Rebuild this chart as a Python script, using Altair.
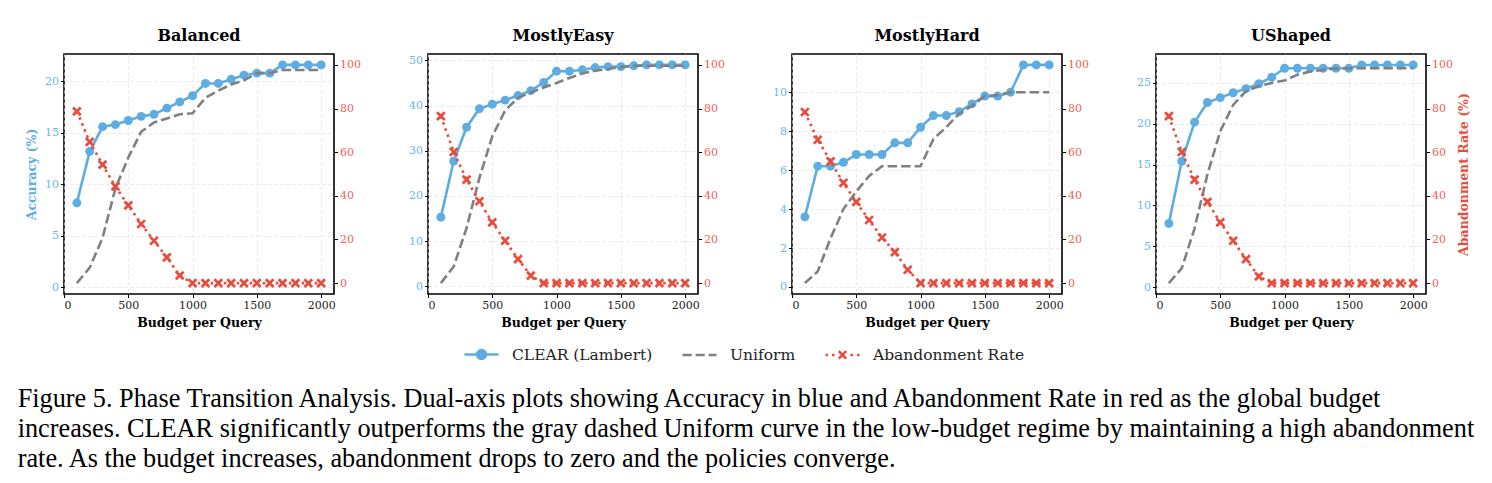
import altair as alt
import pandas as pd

budgets = list(range(100, 2001, 100))
panel_names = ["Balanced", "MostlyEasy", "MostlyHard", "UShaped"]
series_names = ["CLEAR (Lambert)", "Uniform", "Abandonment Rate"]
series_colors = ["#5DADE2", "#808080", "#E74C3C"]

clear_balanced = [8.2, 13.2, 15.6, 15.8, 16.2, 16.6, 16.8, 17.4, 18.0, 18.6,
                  19.8, 19.8, 20.2, 20.6, 20.8, 20.8, 21.6, 21.6, 21.6, 21.6]
uniform_balanced = [0.4, 1.9, 4.8, 9.6, 12.6, 15.1, 16.0, 16.4, 16.8, 16.9,
                    18.4, 19.1, 19.7, 20.1, 20.8, 20.8, 21.1, 21.1, 21.1, 21.1]
abandon_balanced = [78.7, 64.7, 54.3, 44.3, 35.6, 27.1, 19.4, 11.8, 3.5, 0,
                    0, 0, 0, 0, 0, 0, 0, 0, 0, 0]

clear_easy = [15.3, 27.7, 35.2, 39.3, 40.3, 41.2, 42.2, 43.3, 45.1, 47.6,
              47.6, 47.9, 48.4, 48.6, 48.6, 48.8, 49.0, 49.0, 49.0, 49.0]
uniform_easy = [0.7, 4.4, 12.9, 24.0, 33.2, 38.9, 41.7, 42.9, 44.0, 45.0,
                46.1, 47.1, 47.7, 48.1, 48.5, 48.8, 48.8, 48.8, 48.8, 48.8]
abandon_easy = [76.5, 60.1, 47.4, 37.5, 27.8, 19.4, 11.0, 3.4, 0, 0,
                0, 0, 0, 0, 0, 0, 0, 0, 0, 0]

clear_hard = [3.6, 6.2, 6.2, 6.4, 6.8, 6.8, 6.8, 7.4, 7.4, 8.2,
              8.8, 8.8, 9.0, 9.4, 9.8, 9.8, 10.0, 11.4, 11.4, 11.4]
uniform_hard = [0.2, 0.8, 2.5, 4.0, 4.9, 5.7, 6.2, 6.2, 6.2, 6.2,
                7.6, 8.2, 8.9, 9.3, 9.8, 9.85, 10.0, 10.0, 10.0, 10.0]
abandon_hard = [78.4, 65.7, 55.8, 45.9, 37.2, 28.9, 20.9, 14.2, 6.1, 0,
                0, 0, 0, 0, 0, 0, 0, 0, 0, 0]

clear_ushaped = [7.8, 15.4, 20.2, 22.6, 23.2, 23.8, 24.3, 24.9, 25.7, 26.8,
                 26.8, 26.8, 26.8, 26.8, 26.8, 27.2, 27.2, 27.2, 27.2, 27.2]
uniform_ushaped = [0.5, 2.3, 7.2, 13.8, 19.1, 22.3, 24.0, 24.6, 25.0, 25.3,
                   26.0, 26.4, 26.6, 26.75, 26.8, 26.8, 26.8, 26.8, 26.8, 26.8]
abandon_ushaped = [76.5, 60.1, 47.4, 37.2, 27.8, 19.4, 11.0, 3.1, 0, 0,
                   0, 0, 0, 0, 0, 0, 0, 0, 0, 0]

left_domains = [[-0.66, 22.66], [-1.7, 51.4], [-0.36, 11.96], [-0.84, 28.54]]
left_ticks = [[0, 5, 10, 15, 20], [0, 10, 20, 30, 40, 50],
              [0, 2, 4, 6, 8, 10], [0, 5, 10, 15, 20, 25]]
right_domain = [-5, 105]
right_ticks = [0, 20, 40, 60, 80, 100]
x_domain = [0, 2100]
x_ticks = [0, 500, 1000, 1500, 2000]

caption_lines = [
    "Figure 5. Phase Transition Analysis. Dual-axis plots showing Accuracy in blue and Abandonment Rate in red as the global budget",
    "increases. CLEAR significantly outperforms the gray dashed Uniform curve in the low-budget regime by maintaining a high abandonment",
    "rate. As the budget increases, abandonment drops to zero and the policies converge.",
]

SERIF = "DejaVu Serif"
BLUE_LBL = "#6BB5E8"
RED_LBL = "#F0625A"

# legend glyphs (line + marker), as unit-square SVG paths
legend_glyphs = [
    "M-1,0H1M-0.26,0A0.26,0.26,0,1,0,0.26,0A0.26,0.26,0,1,0,-0.26,0",
    "M-1,0H-0.46M-0.23,0H0.31M0.54,0H1",
    "M-1,0H-0.85M-0.62,0H-0.47M0.47,0H0.62M0.85,0H1"
    "M-0.22,-0.22L0.22,0.22M-0.22,0.22L0.22,-0.22",
]
legend_fills = ["#5DADE2", "transparent", "transparent"]


def make_panel(i, name, clear, uniform, abandon):
    df = pd.DataFrame({
        "budget": budgets * 3,
        "value": clear + uniform + abandon,
        "series": [series_names[0]] * 20 + [series_names[1]] * 20 + [series_names[2]] * 20,
    })
    x = alt.X("budget:Q", scale=alt.Scale(domain=x_domain, nice=False, zero=False),
              axis=alt.Axis(values=x_ticks, title="Budget per Query", grid=True, format="d"))
    y_left = alt.Y("value:Q", scale=alt.Scale(domain=left_domains[i], nice=False, zero=False),
                   axis=alt.Axis(values=left_ticks[i], orient="left", grid=True,
                                 labelColor=BLUE_LBL, titleColor="#5DADE2",
                                 title="Accuracy (%)" if i == 0 else None))
    y_right = alt.Y("value:Q", scale=alt.Scale(domain=right_domain, nice=False, zero=False),
                    axis=alt.Axis(values=right_ticks, orient="right", grid=False,
                                  labelColor=RED_LBL, titleColor="#E74C3C",
                                  titleAngle=270, titleBaseline="top", titlePadding=5,
                                  title="Abandonment Rate (%)" if i == 3 else None))

    base = alt.Chart(df)
    s0 = base.transform_filter(alt.datum.series == series_names[0])
    s1 = base.transform_filter(alt.datum.series == series_names[1])
    s2 = base.transform_filter(alt.datum.series == series_names[2])
    clear_line = s0.mark_line(strokeWidth=2.6, color=series_colors[0]).encode(x=x, y=y_left)
    clear_pts = s0.mark_point(filled=True, size=80, opacity=1,
                              color=series_colors[0]).encode(x=x, y=y_left)
    uniform_line = s1.mark_line(strokeWidth=2.6, strokeDash=[9.5, 4],
                                color=series_colors[1]).encode(x=x, y=y_left)
    ab_line = s2.mark_line(strokeWidth=2.6, strokeDash=[2.5, 4],
                           color=series_colors[2]).encode(x=x, y=y_right)
    ab_pts = s2.mark_point(shape="M-1,-1L1,1M-1,1L1,-1", size=60, strokeWidth=2.7,
                           opacity=1, color=series_colors[2]).encode(x=x, y=y_right)

    left_layers = [clear_line, clear_pts, uniform_line]
    if i == 0:
        leg = alt.Legend(title=None)
        legend_layer = base.transform_filter("false").mark_point(
            strokeWidth=2.5, size=1156, opacity=1).encode(
            x=x, y=y_left,
            shape=alt.Shape("series:N", scale=alt.Scale(domain=series_names, range=legend_glyphs), legend=leg),
            stroke=alt.Stroke("series:N", scale=alt.Scale(domain=series_names, range=series_colors), legend=leg),
            fill=alt.Fill("series:N", scale=alt.Scale(domain=series_names, range=legend_fills), legend=leg),
        )
        left_layers.append(legend_layer)

    left = alt.layer(*left_layers)
    right = alt.layer(ab_line, ab_pts)
    return alt.layer(left, right).resolve_scale(y="independent").properties(
        width=270, height=240,
        title=alt.Title(name, font=SERIF, fontSize=16, fontWeight="bold", offset=10))


panels = [
    make_panel(0, panel_names[0], clear_balanced, uniform_balanced, abandon_balanced),
    make_panel(1, panel_names[1], clear_easy, uniform_easy, abandon_easy),
    make_panel(2, panel_names[2], clear_hard, uniform_hard, abandon_hard),
    make_panel(3, panel_names[3], clear_ushaped, uniform_ushaped, abandon_ushaped),
]

chart = alt.hconcat(*panels, spacing=45).properties(
    padding={"left": 17, "top": 27, "right": 5, "bottom": 5},
    title=alt.Title(caption_lines, orient="bottom", anchor="start", frame="bounds",
                    font="Liberation Serif", fontSize=26.25, fontWeight="normal",
                    lineHeight=30, offset=22, dx=-7, color="black"),
).configure_view(
    stroke="black", strokeWidth=1.6
).configure_axis(
    labelFont=SERIF, labelFontSize=11, titleFont=SERIF, titleFontSize=12.5,
    titleFontWeight="bold", domain=False, tickColor="black", tickSize=3.5,
    tickWidth=1, labelPadding=2, gridColor="#dcdcdc", gridDash=[3, 3],
    gridWidth=0.7, titlePadding=6
).configure_axisX(
    labelColor="#222222", titleColor="black"
).configure_legend(
    orient="none", legendX=399, legendY=282, direction="horizontal",
    labelFont=SERIF, labelFontSize=15.5, labelColor="#222222", symbolSize=1156,
    symbolStrokeWidth=2.5, labelOffset=12, columnPadding=24
)

chart.save("out.html", embed_options={"renderer": "svg", "actions": False})
